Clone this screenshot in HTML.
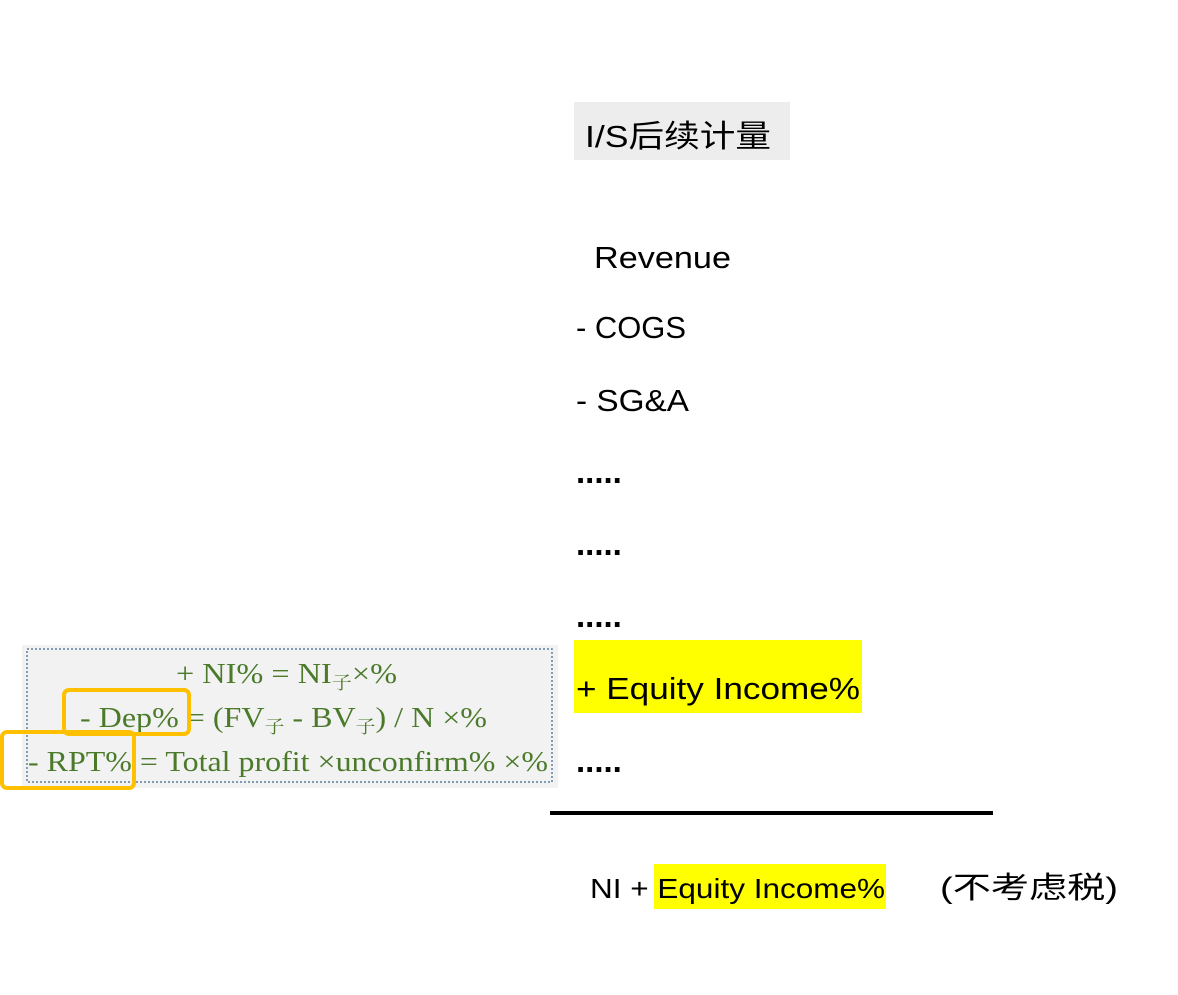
<!DOCTYPE html>
<html><head><meta charset="utf-8"><style>
html,body{margin:0;padding:0;background:#fff;}
svg{display:block;}
.s{font-family:"Liberation Sans","Noto Sans CJK SC",sans-serif;fill:#000;}
.g{font-family:"Liberation Serif","Noto Serif CJK SC",serif;fill:#4a7a2a;}
</style></head><body>
<svg width="1178" height="995" viewBox="0 0 1178 995" xmlns="http://www.w3.org/2000/svg">
<rect x="574" y="102" width="216" height="58" fill="#ededed"/>
<text class="s" x="585" y="147" font-size="31" textLength="186" lengthAdjust="spacingAndGlyphs">I/S后续计量</text>
<text class="s" x="594" y="268" font-size="31" textLength="137" lengthAdjust="spacingAndGlyphs">Revenue</text>
<text class="s" x="576" y="338" font-size="31" textLength="110" lengthAdjust="spacingAndGlyphs">- COGS</text>
<text class="s" x="576" y="411" font-size="31" textLength="113" lengthAdjust="spacingAndGlyphs">- SG&amp;A</text>
<text class="s" x="576" y="483" font-size="33" font-weight="bold">.....</text>
<text class="s" x="576" y="555" font-size="33" font-weight="bold">.....</text>
<text class="s" x="576" y="627" font-size="33" font-weight="bold">.....</text>
<rect x="574" y="640" width="288" height="73" fill="#ffff00"/>
<text class="s" x="576" y="699" font-size="31" textLength="284" lengthAdjust="spacingAndGlyphs">+ Equity Income%</text>
<text class="s" x="576" y="772" font-size="33" font-weight="bold">.....</text>
<rect x="550" y="811" width="443" height="4" fill="#000"/>
<rect x="654" y="864" width="232" height="45" fill="#ffff00"/>
<text class="s" x="590" y="898" font-size="28" textLength="295" lengthAdjust="spacingAndGlyphs">NI + Equity Income%</text>
<text class="s" x="940" y="898" font-size="30" textLength="178" lengthAdjust="spacingAndGlyphs">(不考虑税)</text>
<rect x="22" y="645" width="536" height="143" fill="#f2f2f2"/>
<rect x="27" y="649" width="525" height="133" fill="none" stroke="#5b7fa6" stroke-width="1.5" stroke-dasharray="2,2"/>
<text class="g" x="176" y="683" font-size="29" textLength="221" lengthAdjust="spacingAndGlyphs">+ NI% = NI<tspan font-size="18" dy="6">子</tspan><tspan dy="-6" font-size="29">×%</tspan></text>
<text class="g" x="80" y="727" font-size="29" textLength="407" lengthAdjust="spacingAndGlyphs">- Dep% = (FV<tspan font-size="18" dy="6">子</tspan><tspan dy="-6"> - BV</tspan><tspan font-size="18" dy="6">子</tspan><tspan dy="-6">) / N ×%</tspan></text>
<text class="g" x="28" y="771" font-size="29" textLength="520" lengthAdjust="spacingAndGlyphs">- RPT% = Total profit ×unconfirm% ×%</text>
<rect x="64" y="690" width="125" height="44" rx="5" fill="none" stroke="#ffc000" stroke-width="4"/>
<rect x="2" y="732" width="132" height="56" rx="5" fill="none" stroke="#ffc000" stroke-width="4"/>
</svg>
</body></html>
